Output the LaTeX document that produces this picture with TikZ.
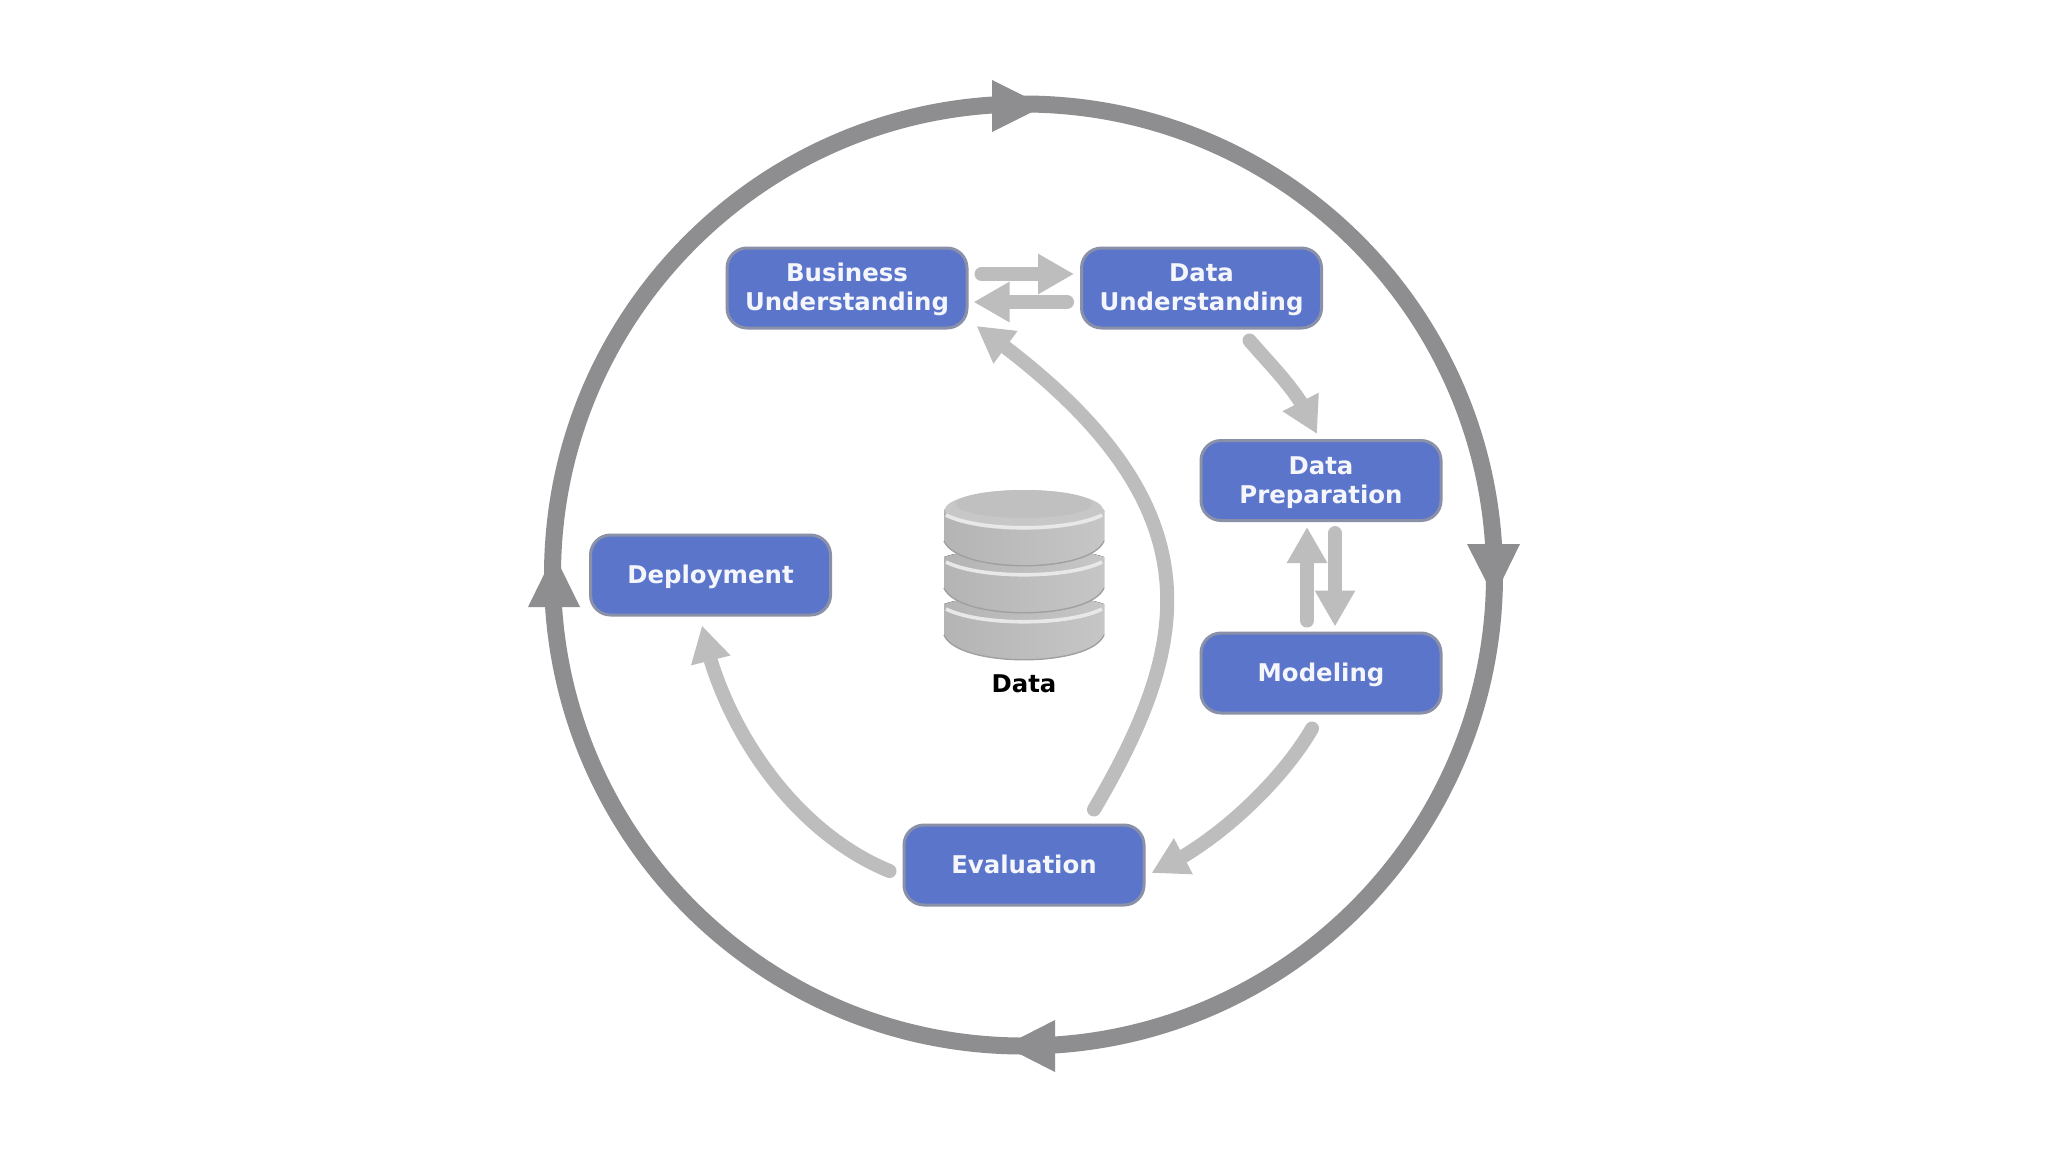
\documentclass[tikz,border=0pt]{standalone}
\usepackage{fontspec}
\setmainfont{DejaVu Sans}
\usetikzlibrary{arrows.meta,bending,calc}
\definecolor{ringgrey}{HTML}{8E8E90}
\definecolor{flowgrey}{HTML}{BDBDBD}
\definecolor{boxblue}{HTML}{5B75CB}
\definecolor{boxedge}{HTML}{8A90A8}
\definecolor{boxtext}{HTML}{F4F6FC}
\definecolor{dbleft}{HTML}{B4B4B4}
\definecolor{dbmid}{HTML}{E2E2E2}
\definecolor{dbright}{HTML}{C6C6C6}
\definecolor{dblip}{HTML}{E8E8E8}
\definecolor{dbline}{HTML}{A0A0A0}
\newcommand{\lift}{\rule{0pt}{10.6pt}}
\tikzset{
  phase/.style={draw=boxedge,line width=1.5pt,fill=boxblue,rounded corners=10pt,
    minimum width=120pt,minimum height=40pt,inner sep=0pt,align=center,
    text=boxtext,font=\fontsize{12.2}{14.5}\selectfont\bfseries},
  phaseone/.style={phase,text height=10.5pt,text depth=2.5pt},
  flow/.style={draw=flowgrey,line width=7pt,line cap=round,
    -{Triangle[length=18pt,width=19pt,flex=1]}},
  ring/.style={draw=ringgrey,line width=8.5pt},
  ringhead/.style={fill=ringgrey,draw=none},
}
\newcommand{\dbdisc}[1]{%
  \fill[left color=dbleft,middle color=dbmid,right color=dbright]
    (944,{510+#1}) -- (944,{541+#1})
    .. controls (958,{574+#1}) and (1090,{574+#1}) .. (1104,{541+#1})
    -- (1104,{510+#1})
    .. controls (1070,{498+#1}) and (978,{498+#1}) .. (944,{510+#1}) -- cycle;
  \draw[dblip,line width=1.8pt]
    (946,{515+#1}) .. controls (980,{532+#1}) and (1068,{532+#1}) .. (1102,{515+#1});
  \draw[dbline,line width=0.7pt]
    (944,{541+#1}) .. controls (958,{574+#1}) and (1090,{574+#1}) .. (1104,{541+#1});
}
\begin{document}
\begin{tikzpicture}[x=0.5pt,y=-0.5pt]
\useasboundingbox (0,0) rectangle (2048,1152);
\fill[white] (0,0) rectangle (2048,1152);
\coordinate (hub) at (1023.5,575);
% outer ring
\draw[ring] (hub) circle [radius=471];
\fill[ringhead] (992,80) -- (1044,106) -- (992,132) -- cycle;
\fill[ringhead] (1467,544) -- (1520,544) -- (1494,597) -- cycle;
\fill[ringhead] (1055,1020) -- (1004,1046) -- (1055,1072) -- cycle;
\fill[ringhead] (528,607) -- (580,607) -- (554,554) -- cycle;
% data store
\begin{scope}
\dbdisc{94}
\dbdisc{47}
\dbdisc{0}
\fill[dbmid!88!black] (1024,510) ellipse [x radius=79,y radius=20];
\fill[dbright!97!black] (1024,504) ellipse [x radius=68,y radius=14];
\draw[dblip,line width=1.8pt]
    (946,515) .. controls (980,532) and (1068,532) .. (1102,515);
\end{scope}
\node[font=\fontsize{12.2}{14}\selectfont\bfseries,text=black,inner sep=0pt] (datalabel) at (1024,684) {Data};
% phases
\node[phase] (bu) at (847,288) {\lift Business\\Understanding};
\node[phase] (du) at (1201.5,288) {\lift Data\\Understanding};
\node[phase] (dp) at (1321,480.5) {\lift Data\\Preparation};
\node[phaseone] (mo) at (1321,673) {Modeling};
\node[phaseone] (ev) at (1024,865) {Evaluation};
\node[phaseone] (de) at (710.5,575) {Deployment};
% flows
\draw[flow] ([shift={(13,-14)}]bu.east) -- ([shift={(-6,-14)}]du.west);
\draw[flow] ([shift={(-13,14)}]du.west) -- ([shift={(5,14)}]bu.east);
\draw[flow] ([shift={(48,11)}]du.south) .. controls +(24,28) and +(-14,-38) .. ([shift={(-4,-5)}]dp.north);
\draw[flow] ([shift={(-14,-11)}]mo.north) -- ([shift={(-14,5)}]dp.south);
\draw[flow] ([shift={(14,11)}]dp.south) -- ([shift={(14,-5)}]mo.north);
\draw[flow] ([shift={(-9,14)}]mo.south) .. controls +(-30,52) and +(64,-28) .. ([shift={(6,8)}]ev.east);
\draw[flow] ([shift={(70,-14)}]ev.north) .. controls +(100,-170) and +(246,174) .. ([shift={(8,38)}]bu.east);
\draw[flow] ([shift={(-13,6)}]ev.west) .. controls +(-100,-41) and +(18,95) .. ([shift={(-8.5,9)}]de.south);
\end{tikzpicture}
\end{document}
